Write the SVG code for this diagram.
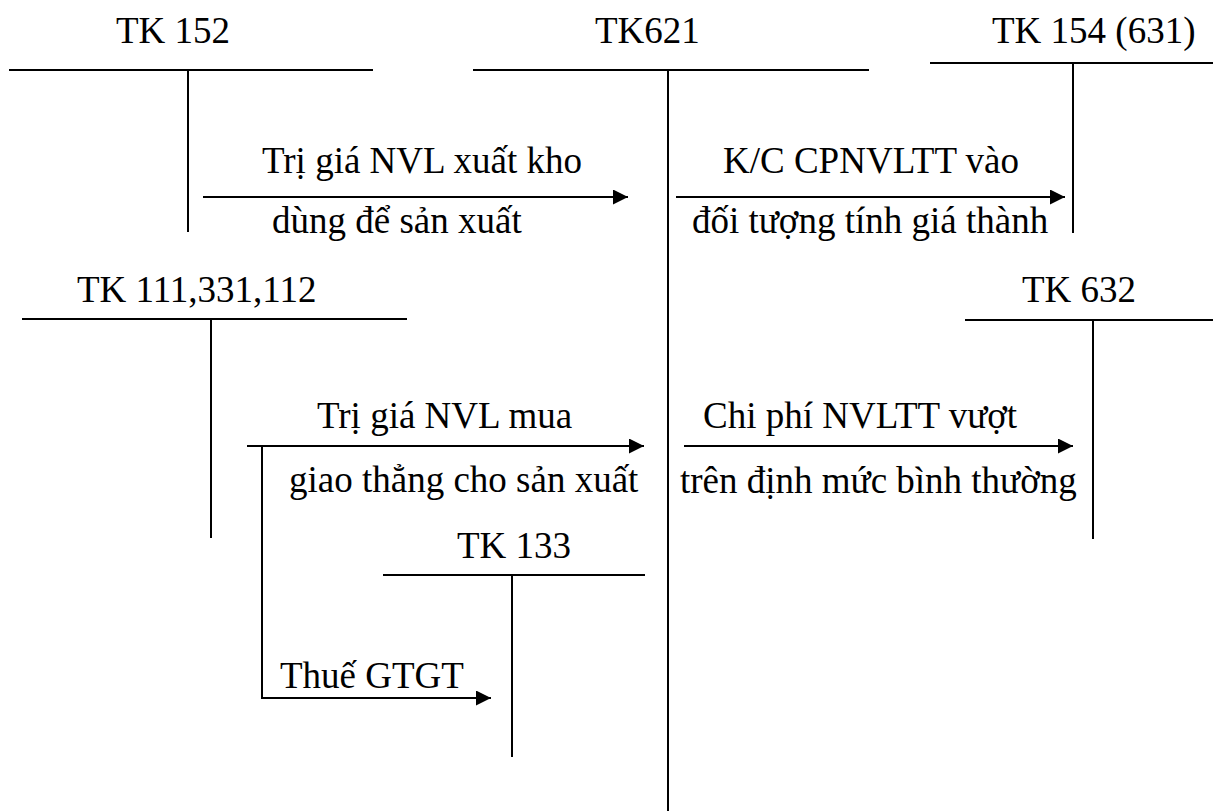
<svg xmlns="http://www.w3.org/2000/svg" width="1213" height="811" viewBox="0 0 1213 811">
  <style>
    text { font-family: "Liberation Serif", "Times New Roman", serif; font-size: 37px; fill: #000; }
    .acct { stroke: #000; stroke-width: 2; fill: none; }
    .flow { stroke: #000; stroke-width: 2; fill: none; marker-end: url(#head); }
  </style>
  <defs>
    <marker id="head" viewBox="0 0 15 15" refX="15" refY="7.5" markerWidth="15" markerHeight="15" markerUnits="userSpaceOnUse" orient="auto">
      <path d="M0,0 L15,7.5 L0,15 z" fill="#000"/>
    </marker>
  </defs>
  <rect width="1213" height="811" fill="#fff"/>

  <!-- T-accounts -->
  <g id="tk152">
    <text x="116" y="43">TK 152</text>
    <path class="acct" d="M9,70 H373 M188,70 V232"/>
  </g>
  <g id="tk621">
    <text x="595" y="43">TK621</text>
    <path class="acct" d="M473,70 H869 M668,70 V811"/>
  </g>
  <g id="tk154">
    <text x="992" y="43">TK 154 (631)</text>
    <path class="acct" d="M930,63 H1213 M1073,63 V233"/>
  </g>
  <g id="tk111">
    <text x="77" y="302">TK 111,331,112</text>
    <path class="acct" d="M22,319 H407 M211,319 V538"/>
  </g>
  <g id="tk632">
    <text x="1022" y="302">TK 632</text>
    <path class="acct" d="M965,320 H1213 M1093,320 V539"/>
  </g>
  <g id="tk133">
    <text x="457" y="558">TK 133</text>
    <path class="acct" d="M383,575 H645 M512,575 V757"/>
  </g>

  <!-- Entries between accounts -->
  <g id="connectors">
    <path class="flow" d="M203,197 H628"/>
    <path class="flow" d="M676,197 H1065"/>
    <path class="flow" d="M247,446 H644"/>
    <path class="flow" d="M262,446 V698 H491"/>
    <path class="flow" d="M684,446 H1073"/>

    <text x="262" y="173">Trị giá NVL xuất kho</text>
    <text x="272" y="233">dùng để sản xuất</text>
    <text x="723" y="173">K/C CPNVLTT vào</text>
    <text x="692" y="233">đối tượng tính giá thành</text>
    <text x="317" y="428">Trị giá NVL mua</text>
    <text x="289" y="492">giao thẳng cho sản xuất</text>
    <text x="703" y="428">Chi phí NVLTT vượt</text>
    <text x="680" y="493">trên định mức bình thường</text>
    <text x="280" y="688">Thuế GTGT</text>
  </g>
</svg>
